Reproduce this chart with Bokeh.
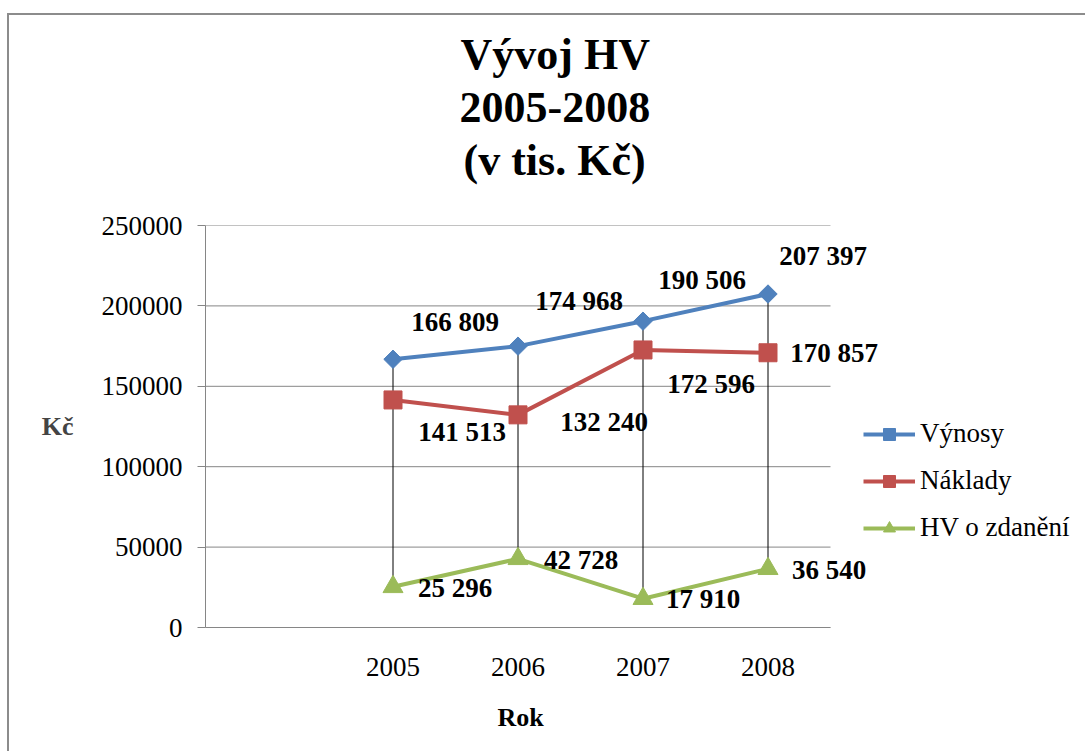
from bokeh.plotting import figure
from bokeh.models import (Range1d, FixedTicker, BasicTickFormatter, LabelSet, Title,
                          ColumnDataSource)
from bokeh.core.properties import value
from bokeh.embed import file_html
from bokeh.resources import INLINE
import math

# ---------------- data ----------------
years = [2005, 2006, 2007, 2008]
vynosy = [166809, 174968, 190506, 207397]
naklady = [141513, 132240, 172596, 170857]
hv = [25296, 42728, 17910, 36540]
series_names = ["Výnosy", "Náklady", "HV o zdanění"]
title_lines = ["Vývoj HV", "2005-2008", "(v tis. Kč)"]
y_ticks = [0, 50000, 100000, 150000, 200000, 250000]
x_title = "Rok"
y_title = "Kč"

# label offsets in px (right, up)
vyn_off = [(62, 37), (61, 45), (59, 41), (55, 38)]
nak_off = [(69, -32), (86, -7), (68, -34), (66, 0)]
hv_off = [(62, -1), (63, -1), (60, 0), (61, -1)]
# left offsets of title lines / x-axis title (px from plot-area left edge)
title_offsets = [255, 254, 258]
x_title_offset = 292

BLUE = "#4F81BD"
RED = "#C0504D"
GREEN = "#9BBB59"
GRAY = "#868686"
FONT = "Liberation Serif"

W, H = 1078, 738
LEFT, TOP, BOTTOM = 196, 210, 126
PLOT_W = 625          # width of the category area in px
FRAME_W = W - LEFT    # frame stretched right so that labels/legend are not clipped

cat_lo = years[0] - 1.5   # one empty category slot before 2005
cat_hi = years[-1] + 0.5
x_end = cat_lo + (cat_hi - cat_lo) * FRAME_W / PLOT_W


def fmt(v):
    return f"{v:,}".replace(",", " ")


p = figure(width=W, height=H,
           x_range=Range1d(cat_lo, x_end), y_range=Range1d(0, y_ticks[-1]),
           output_backend="svg", toolbar_location=None,
           min_border_left=LEFT, min_border_right=0,
           min_border_top=TOP, min_border_bottom=BOTTOM)
p.styles = {"border-top": "2px solid #8C8C8C", "border-left": "2px solid #8C8C8C",
            "margin-left": "7px", "margin-top": "13px"}
p.outline_line_color = None
p.xgrid.visible = False
p.ygrid.visible = False

# horizontal grid lines limited to the category area
p.segment(x0=[cat_lo] * len(y_ticks), x1=[cat_hi] * len(y_ticks),
          y0=y_ticks, y1=y_ticks, line_color=GRAY, line_width=1)

# x axis
xa = p.xaxis[0]
xa.ticker = FixedTicker(ticks=years)
xa.bounds = (cat_lo, cat_hi)
xa.major_tick_out = 0
xa.major_tick_in = 0
xa.minor_tick_out = 0
xa.minor_tick_in = 0
xa.axis_line_color = GRAY
xa.major_label_text_font = FONT
xa.major_label_text_font_size = "27px"
xa.major_label_text_color = "black"
xa.major_label_standoff = 30

# y axis
ya = p.yaxis[0]
ya.ticker = FixedTicker(ticks=y_ticks)
ya.formatter = BasicTickFormatter(use_scientific=False)
ya.major_tick_out = 8
ya.major_tick_in = 0
ya.minor_tick_out = 0
ya.minor_tick_in = 0
ya.axis_line_color = GRAY
ya.major_tick_line_color = GRAY
ya.major_label_text_font = FONT
ya.major_label_text_font_size = "27px"
ya.major_label_text_color = "black"
ya.major_label_standoff = 15
ya.axis_label = y_title
ya.axis_label_orientation = "horizontal"
ya.axis_label_text_font = FONT
ya.axis_label_text_font_style = "bold"
ya.axis_label_text_font_size = "26px"
ya.axis_label_standoff = 25

# high-low lines
lows = [min(a, b, c) for a, b, c in zip(vynosy, naklady, hv)]
highs = [max(a, b, c) for a, b, c in zip(vynosy, naklady, hv)]
p.segment(x0=years, x1=years, y0=lows, y1=highs, line_color="black", line_width=1)

# series
p.line(years, vynosy, line_color=BLUE, line_width=4, legend_label=series_names[0])
p.scatter(years, vynosy, marker="square", angle=math.pi / 4, size=13,
          fill_color=BLUE, line_color=BLUE, legend_label=series_names[0])
p.line(years, naklady, line_color=RED, line_width=4, legend_label=series_names[1])
p.scatter(years, naklady, marker="square", size=18,
          fill_color=RED, line_color=RED, legend_label=series_names[1])
p.line(years, hv, line_color=GREEN, line_width=4, legend_label=series_names[2])
p.scatter(years, hv, marker="triangle", size=20,
          fill_color=GREEN, line_color=GREEN, legend_label=series_names[2])

# data labels
for vals, offs in ((vynosy, vyn_off), (naklady, nak_off), (hv, hv_off)):
    src = ColumnDataSource(dict(x=years, y=vals, t=[fmt(v) for v in vals],
                                xo=[o[0] for o in offs], yo=[o[1] for o in offs]))
    p.add_layout(LabelSet(x="x", y="y", text="t", source=src,
                          x_offset="xo", y_offset="yo",
                          text_align="center", text_baseline="middle",
                          text_font=value(FONT), text_font_style="bold",
                          text_font_size="27px", text_color="black"))

# title: spacer + three stacked lines (later added = higher)
p.add_layout(Title(text=" ", text_font_size="4px", standoff=28), "above")
for line, off in reversed(list(zip(title_lines, title_offsets))):
    p.add_layout(Title(text=line, align="left", offset=off,
                       text_font=FONT, text_font_style="bold",
                       text_font_size="44px", text_color="black",
                       standoff=12), "above")

# x-axis title, centred under the category area
p.add_layout(Title(text=x_title, align="left", offset=x_title_offset,
                   text_font=FONT, text_font_style="bold",
                   text_font_size="26px", text_color="black",
                   standoff=44), "below")

# legend
lg = p.legend[0]
lg.location = (658, 84)
lg.background_fill_alpha = 0
lg.border_line_color = None
lg.glyph_width = 52
lg.glyph_height = 30
lg.label_height = 30
lg.spacing = 16
lg.padding = 0
lg.margin = 0
lg.label_standoff = 5
lg.label_text_font = FONT
lg.label_text_font_size = "27px"
lg.label_text_color = "black"

open("out.html", "w").write(file_html(p, INLINE))
